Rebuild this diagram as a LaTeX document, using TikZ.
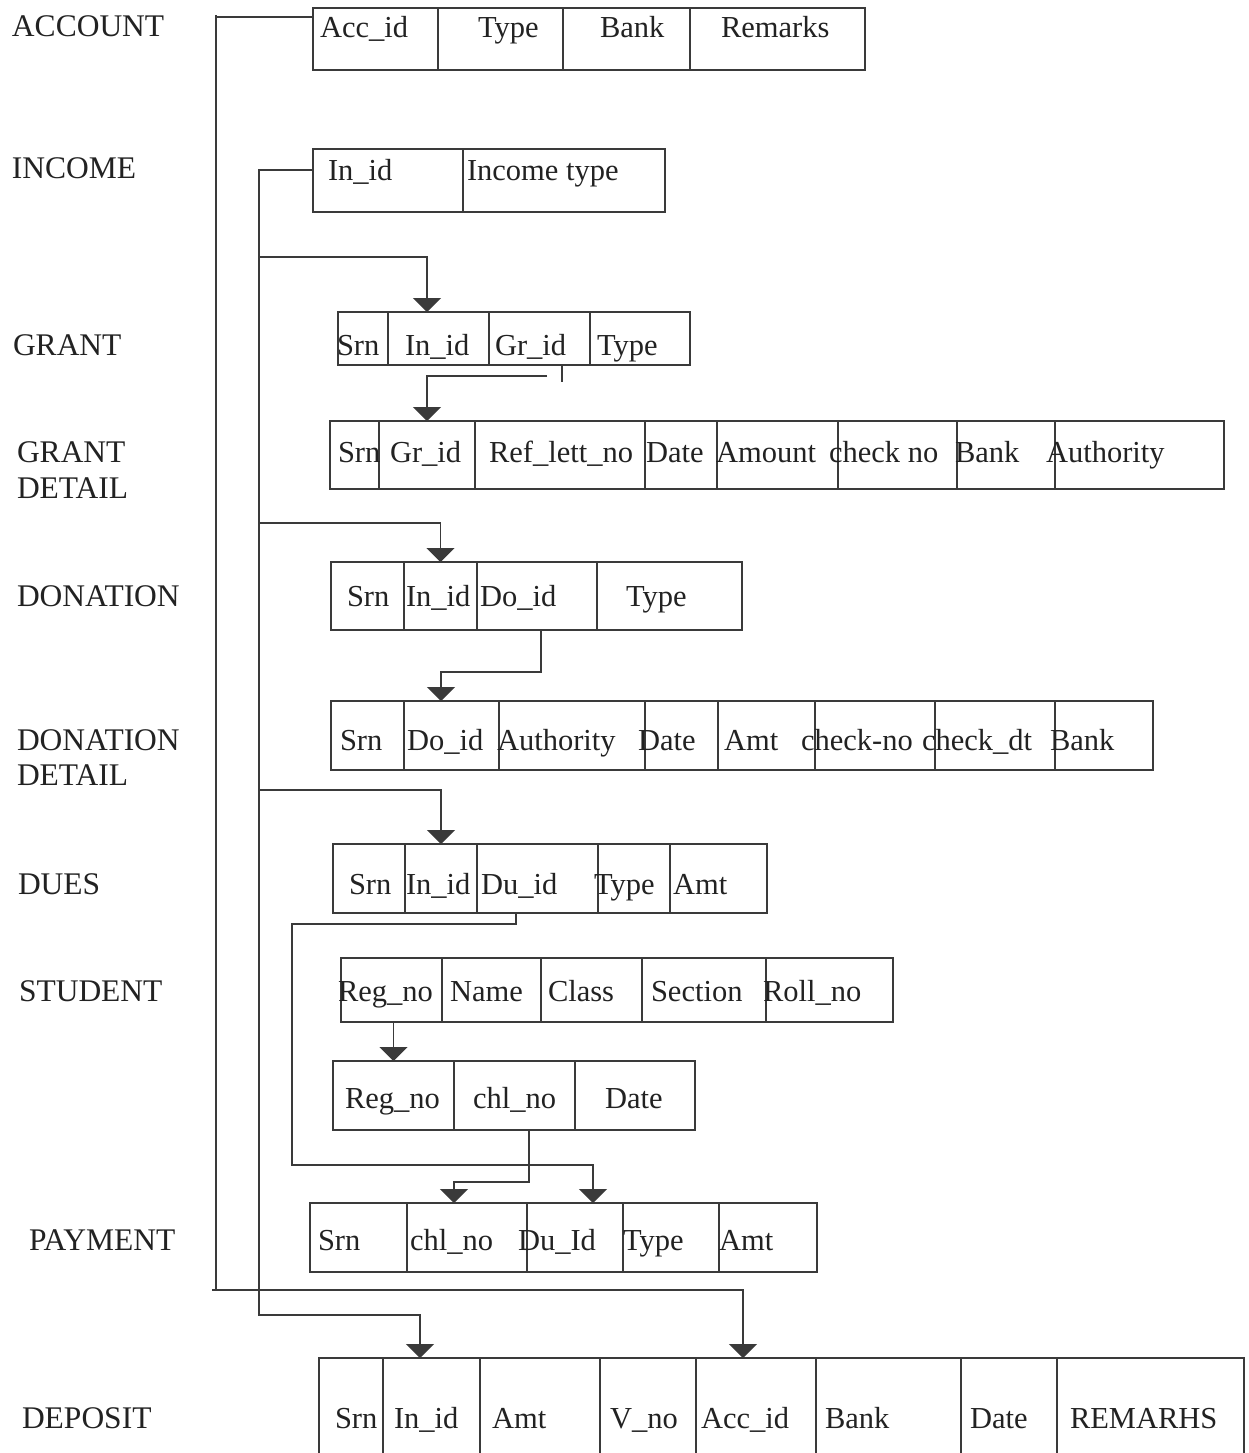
\documentclass[tikz,border=0pt]{standalone}
\usepackage{fontspec}
\setmainfont{Liberation Serif}
\usetikzlibrary{arrows.meta,calc}

\definecolor{ink}{HTML}{3A3A3A}
\definecolor{txt}{HTML}{222222}

\tikzset{
  cell/.style={draw=ink, line width=1.2pt, inner sep=0pt, outer sep=0pt},
  fld/.style={text=txt, inner sep=0pt, outer sep=0pt, font=\fontsize{30.5}{36}\selectfont},
  lbl/.style={text=txt, inner sep=0pt, outer sep=0pt, font=\fontsize{31.5}{36}\selectfont},
  conn/.style={draw=ink, line width=1.3pt},
  tipped/.style={conn, -{Triangle[width=28pt,length=14pt]}},
}

% one table row: name, top, bottom, list of left/right cell edges
\newcommand{\cells}[4]{%
  \foreach \xa/\xb [count=\i] in {#4} {%
    \node[cell, minimum width={\xb-\xa}, minimum height={#3-#2}, anchor=north west]
      (#1-\i) at (\xa,#2) {};
  }}
% field names of a row: name, baseline, list of x/text
\newcommand{\fields}[3]{%
  \foreach \xt/\tt [count=\i] in {#3} {%
    \node[fld, anchor=base west] (#1-t\i) at (\xt,#2) {\tt};
  }}

\begin{document}
\begin{tikzpicture}[x=1pt,y=-1pt]
\clip (0,0) rectangle (1248,1453);
\fill[white] (0,0) rectangle (1248,1453);

% ---- relation names ----
\node[lbl, anchor=base west] (l-acc) at (12,37) {ACCOUNT};
\node[lbl, anchor=base west] (l-inc) at (12,178) {INCOME};
\node[lbl, anchor=base west] (l-gr) at (13,355) {GRANT};
\node[lbl, anchor=base west] (l-gd1) at (17,462) {GRANT};
\node[lbl, anchor=base west] (l-gd2) at (17,498) {DETAIL};
\node[lbl, anchor=base west] (l-don) at (17,606) {DONATION};
\node[lbl, anchor=base west] (l-dd1) at (17,750) {DONATION};
\node[lbl, anchor=base west] (l-dd2) at (17,785) {DETAIL};
\node[lbl, anchor=base west] (l-dues) at (18,894) {DUES};
\node[lbl, anchor=base west] (l-stu) at (19,1001) {STUDENT};
\node[lbl, anchor=base west] (l-pay) at (29,1250) {PAYMENT};
\node[lbl, anchor=base west] (l-dep) at (22,1428) {DEPOSIT};

% ---- tables ----
\cells{acc}{8}{70}{313/438,438/563,563/690,690/865}
\fields{acc}{38}{320/Acc\_id,478/Type,600/Bank,721/Remarks}

\cells{inc}{149}{212}{313/463,463/665}
\fields{inc}{180}{328/In\_id,467/Income type}

\cells{gr}{312}{365}{338/388,388/489,489/590,590/690}
\fields{gr}{355}{337/Srn,405/In\_id,495/Gr\_id,597/Type}

\cells{gd}{421}{489}{330/379,379/475,475/645,645/717,717/838,838/957,957/1055,1055/1224}
\fields{gd}{462}{338/Srn,390/Gr\_id,489/Ref\_lett\_no,646/Date,716/Amount,829/check no,955/Bank,1046/Authority}

\cells{don}{562}{630}{331/404,404/477,477/597,597/742}
\fields{don}{606}{347/Srn,406/In\_id,480/Do\_id,626/Type}

\cells{dd}{701}{770}{331/404,404/499,499/645,645/718,718/815,815/935,935/1055,1055/1153}
\fields{dd}{750}{340/Srn,407/Do\_id,497/Authority,638/Date,724/Amt,801/check-no,922/check\_dt,1050/Bank}

\cells{dues}{844}{913}{333/405,405/477,477/598,598/670,670/767}
\fields{dues}{894}{349/Srn,406/In\_id,481/Du\_id,594/Type,673/Amt}

\cells{stu}{958}{1022}{341/442,442/541,541/642,642/766,766/893}
\fields{stu}{1001}{338/Reg\_no,450/Name,548/Class,651/Section,763/Roll\_no}

\cells{ch}{1061}{1130}{333/454,454/575,575/695}
\fields{ch}{1108}{345/Reg\_no,473/chl\_no,605/Date}

\cells{pay}{1203}{1272}{310/407,407/527,527/623,623/719,719/817}
\fields{pay}{1250}{318/Srn,410/chl\_no,518/Du\_Id,623/Type,719/Amt}

\cells{dep}{1358}{1470}{319/383,383/480,480/600,600/696,696/816,816/961,961/1057,1057/1244}
\fields{dep}{1428}{335/Srn,394/In\_id,492/Amt,610/V\_no,701/Acc\_id,825/Bank,970/Date,1070/REMARHS}

% ---- rails ----
\coordinate (accrail) at (216,1290);
\coordinate (incrail) at (259,1315);
\coordinate (br1) at (259,257);
\coordinate (br2) at (259,523);
\coordinate (br3) at (259,790);
\coordinate (duesrail) at (292,1165);

% ---- connectors ----
\draw[tipped] ([yshift=-9pt]acc-1.north west) -| (accrail) -| ([xshift=47pt]dep-5.north west);
\draw[conn] (accrail) -- ++(0,-1275);
\draw[conn] (accrail) -- ++(-4,0);
\draw[tipped] ([yshift=-21pt]inc-1.north west) -| (incrail) -| ([xshift=37pt]dep-2.north west);
\draw[tipped] (br1) -| ([xshift=39pt]gr-2.north west);
\draw[tipped] (br2) -| (don-2.north);
\draw[tipped] (br3) -| (dues-2.north);

\draw[conn] ([xshift=73pt]gr-3.south west) -- ++(0,17);
\draw[tipped] ([xshift=58pt,yshift=-11pt]gr-3.south west) -| (gd-2.north);

\draw[tipped] ([xshift=64pt]don-3.south west) -- ++(0,42) -| ([xshift=37pt]dd-2.north west);

\draw[tipped] ([xshift=39pt]dues-3.south west) -- ++(0,11) -| (duesrail) -| ([xshift=66pt]pay-3.north west);

\draw[tipped] (stu-1.south -| ch-1.north) -- (ch-1.north);

\draw[tipped] ([xshift=75pt]ch-2.south west) -- ++(0,52) -| ([xshift=47pt]pay-2.north west);
\end{tikzpicture}
\end{document}
